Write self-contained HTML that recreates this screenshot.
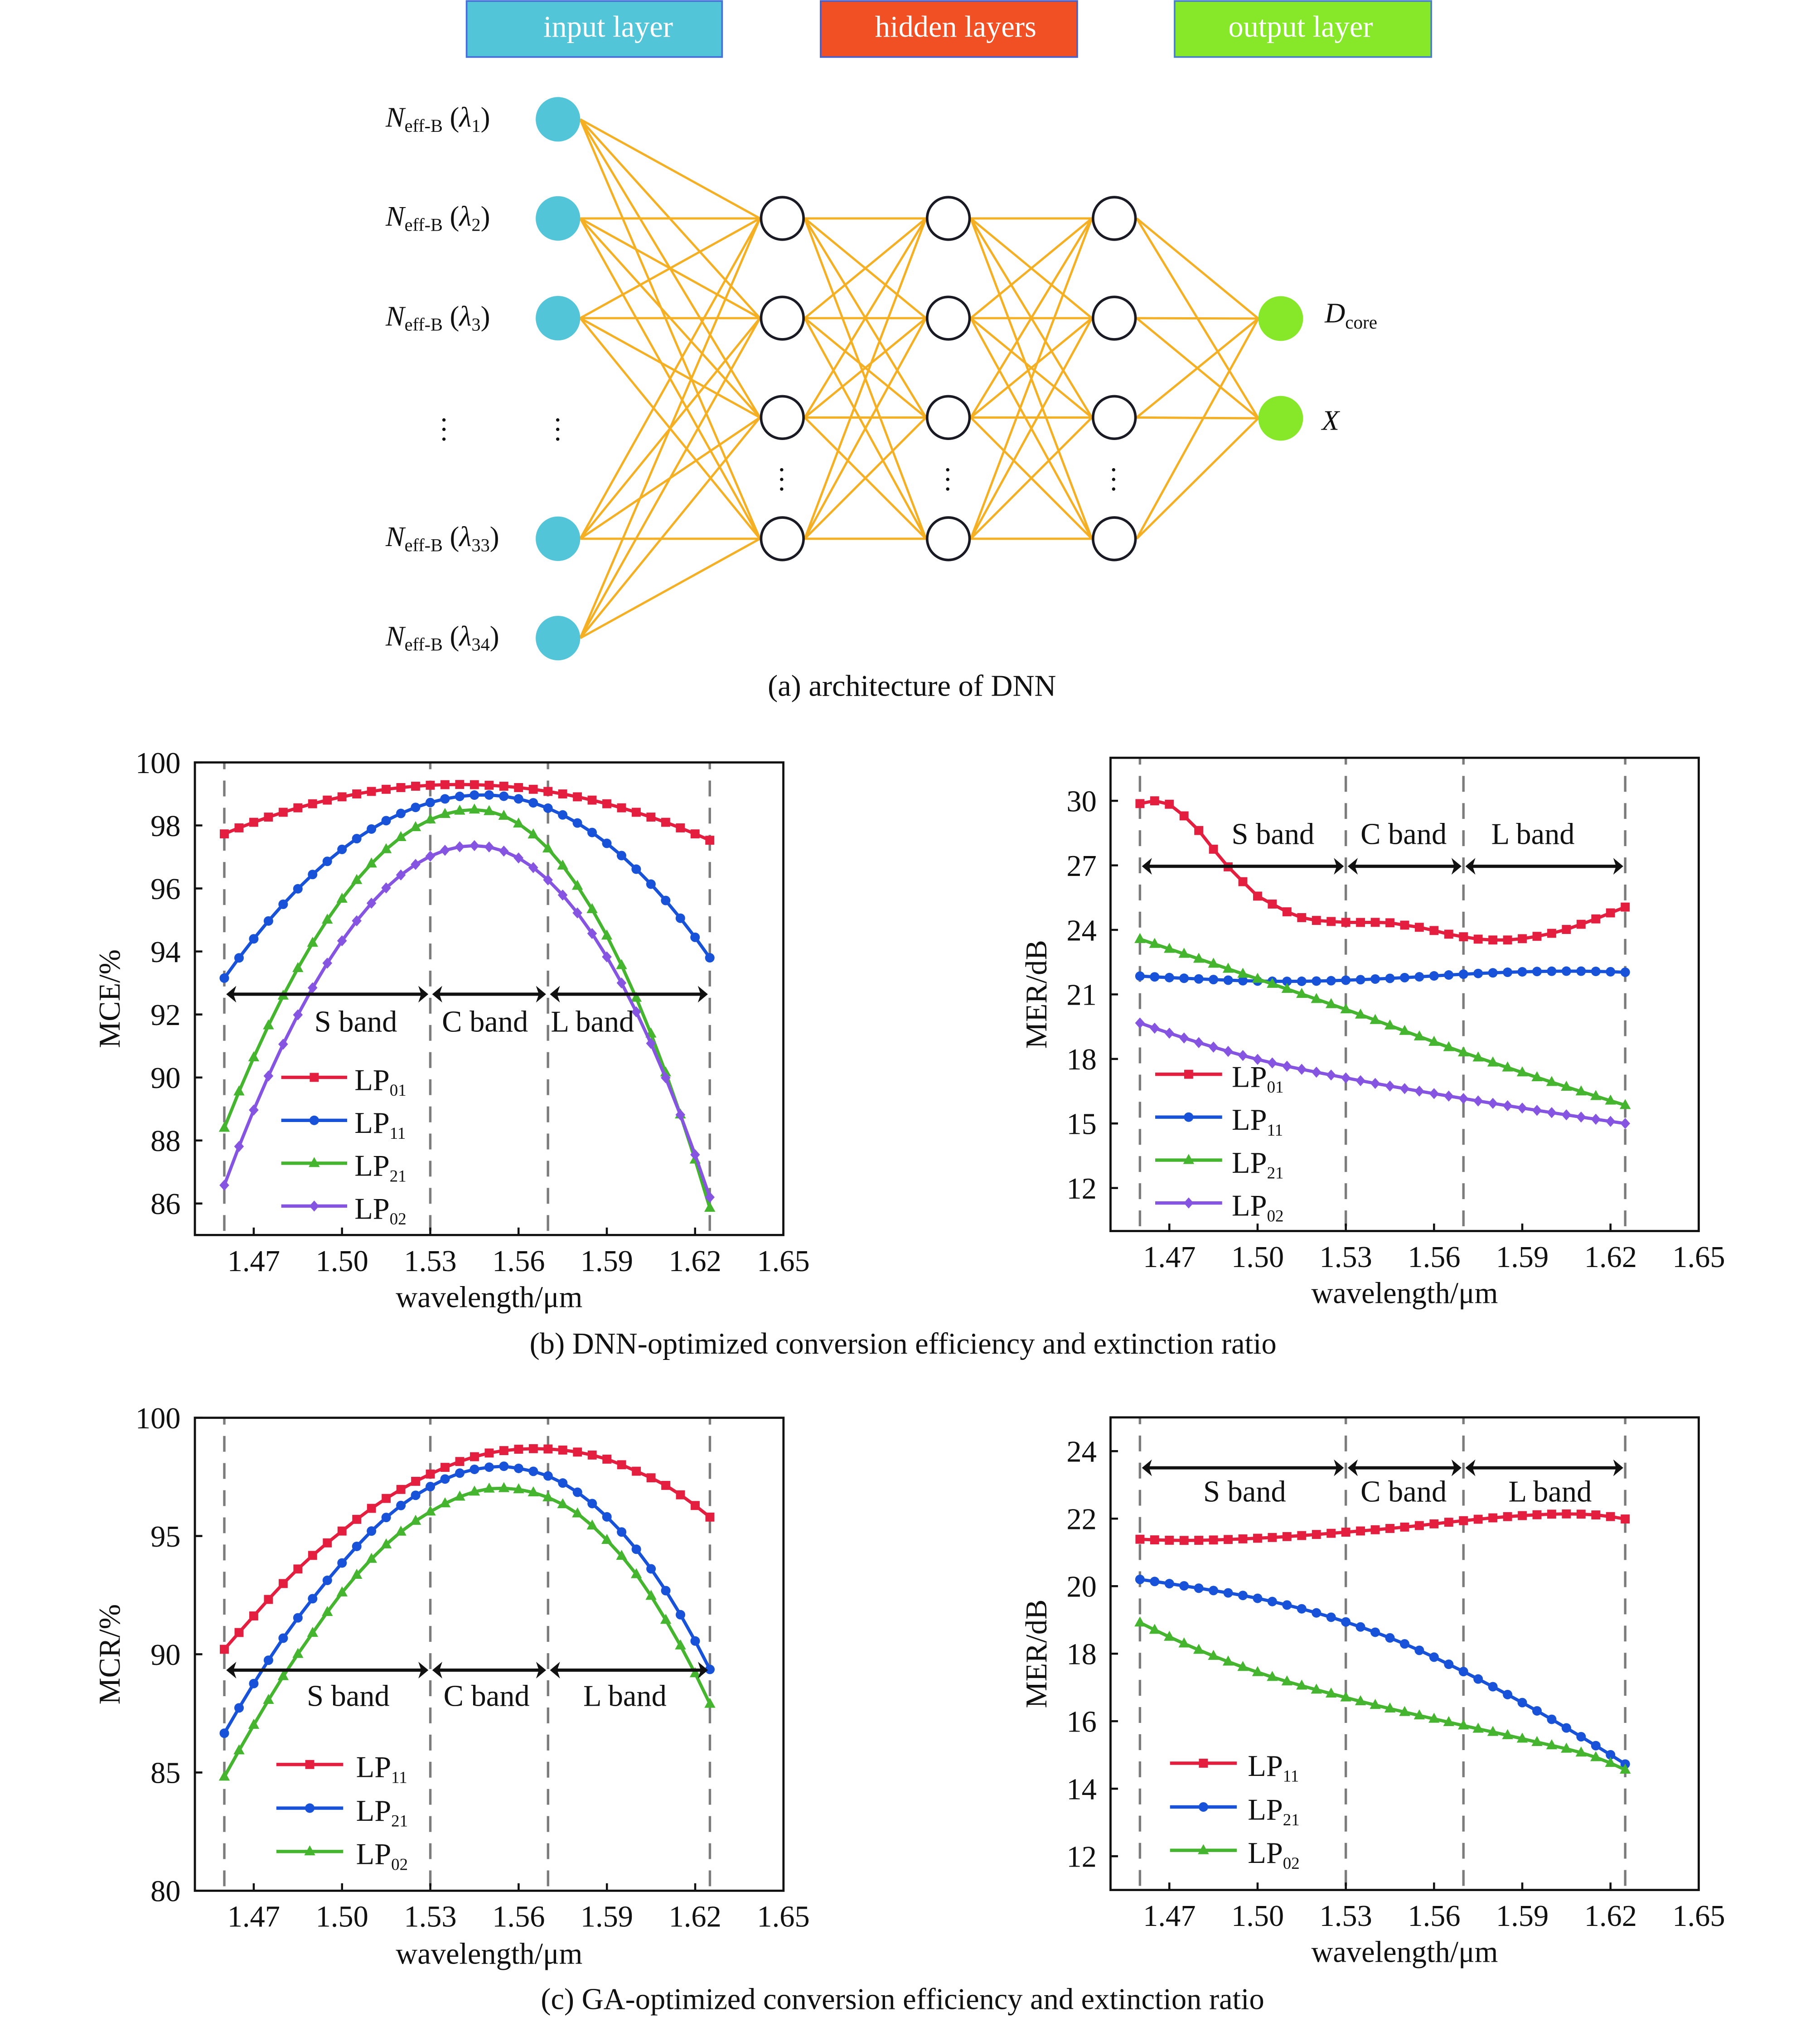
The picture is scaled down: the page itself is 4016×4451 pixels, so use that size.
<!DOCTYPE html>
<html>
<head>
<meta charset="utf-8">
<style>
html,body{margin:0;padding:0;background:#fff;}
body{width:4016px;height:4451px;overflow:hidden;}
svg{display:block;}
text{fill:#111;}
</style>
</head>
<body>
<svg id="fig" width="4016" height="4451" viewBox="0 0 1414 1567.2" font-family="'Liberation Serif', 'DejaVu Serif', serif">
<rect x="0" y="0" width="1414" height="1567.2" fill="#fff"/>

<!-- header boxes -->
<rect x="362.5" y="0.8" width="198.5" height="43.5" fill="#52C5D8" stroke="#4470D8" stroke-width="1.3"/>
<rect x="637.6" y="0.8" width="199.3" height="43.5" fill="#F15024" stroke="#4a5fc8" stroke-width="1.3"/>
<rect x="912.6" y="0.8" width="199.4" height="43.5" fill="#86E828" stroke="#4a80c8" stroke-width="1.3"/>
<text x="472.5" y="28.5" font-size="23.4" text-anchor="middle" style="fill:#fff">input layer</text>
<text x="742.5" y="28.5" font-size="23.4" text-anchor="middle" style="fill:#fff">hidden layers</text>
<text x="1010.5" y="28.5" font-size="23.4" text-anchor="middle" style="fill:#fff">output layer</text>

<!-- network edges (generated) -->
<g id="edges"></g>

<!-- input nodes -->
<g fill="#52C5D8">
<circle cx="433.5" cy="92.7" r="17.3"/>
<circle cx="433.5" cy="169.7" r="17.3"/>
<circle cx="433.5" cy="247.2" r="17.3"/>
<circle cx="433.5" cy="418.6" r="17.3"/>
<circle cx="433.5" cy="495.8" r="17.3"/>
</g>
<!-- hidden nodes -->
<g fill="#fff" stroke="#1a1a24" stroke-width="2">
<circle cx="607.8" cy="169.7" r="16.5"/><circle cx="607.8" cy="247.2" r="16.5"/><circle cx="607.8" cy="324.4" r="16.5"/><circle cx="607.8" cy="418.6" r="16.5"/>
<circle cx="736.8" cy="169.7" r="16.5"/><circle cx="736.8" cy="247.2" r="16.5"/><circle cx="736.8" cy="324.4" r="16.5"/><circle cx="736.8" cy="418.6" r="16.5"/>
<circle cx="865.7" cy="169.7" r="16.5"/><circle cx="865.7" cy="247.2" r="16.5"/><circle cx="865.7" cy="324.4" r="16.5"/><circle cx="865.7" cy="418.6" r="16.5"/>
</g>
<!-- output nodes -->
<g fill="#86E828">
<circle cx="995" cy="247.5" r="17.4"/>
<circle cx="995" cy="325" r="17.4"/>
</g>

<!-- vertical ellipsis dots -->
<g fill="#111">
<circle cx="344.9" cy="326.3" r="1.3"/><circle cx="344.9" cy="333.6" r="1.3"/><circle cx="344.9" cy="341.2" r="1.3"/>
<circle cx="433.3" cy="326.3" r="1.3"/><circle cx="433.3" cy="333.6" r="1.3"/><circle cx="433.3" cy="341.2" r="1.3"/>
<circle cx="607.3" cy="365" r="1.3"/><circle cx="607.3" cy="372.5" r="1.3"/><circle cx="607.3" cy="380" r="1.3"/>
<circle cx="736.3" cy="365" r="1.3"/><circle cx="736.3" cy="372.5" r="1.3"/><circle cx="736.3" cy="380" r="1.3"/>
<circle cx="865.2" cy="365" r="1.3"/><circle cx="865.2" cy="372.5" r="1.3"/><circle cx="865.2" cy="380" r="1.3"/>
</g>

<!-- input labels -->
<g font-size="22">
<text x="299.6" y="98.4"><tspan font-style="italic">N</tspan><tspan font-size="14.2" dy="4">eff-B</tspan><tspan dy="-4" xml:space="preserve"> (</tspan><tspan font-style="italic">λ</tspan><tspan font-size="14.2" dy="4">1</tspan><tspan dy="-4">)</tspan></text>
<text x="299.6" y="175.4"><tspan font-style="italic">N</tspan><tspan font-size="14.2" dy="4">eff-B</tspan><tspan dy="-4" xml:space="preserve"> (</tspan><tspan font-style="italic">λ</tspan><tspan font-size="14.2" dy="4">2</tspan><tspan dy="-4">)</tspan></text>
<text x="299.6" y="252.9"><tspan font-style="italic">N</tspan><tspan font-size="14.2" dy="4">eff-B</tspan><tspan dy="-4" xml:space="preserve"> (</tspan><tspan font-style="italic">λ</tspan><tspan font-size="14.2" dy="4">3</tspan><tspan dy="-4">)</tspan></text>
<text x="299.6" y="424.3"><tspan font-style="italic">N</tspan><tspan font-size="14.2" dy="4">eff-B</tspan><tspan dy="-4" xml:space="preserve"> (</tspan><tspan font-style="italic">λ</tspan><tspan font-size="14.2" dy="4">33</tspan><tspan dy="-4">)</tspan></text>
<text x="299.6" y="501.5"><tspan font-style="italic">N</tspan><tspan font-size="14.2" dy="4">eff-B</tspan><tspan dy="-4" xml:space="preserve"> (</tspan><tspan font-style="italic">λ</tspan><tspan font-size="14.2" dy="4">34</tspan><tspan dy="-4">)</tspan></text>
</g>
<!-- output labels -->
<text x="1029.2" y="250.6" font-size="22"><tspan font-style="italic">D</tspan><tspan font-size="14.5" dy="4.7">core</tspan></text>
<text x="1027" y="333.9" font-size="22" font-style="italic">X</text>

<text x="708.5" y="540.7" font-size="23.4" text-anchor="middle">(a) architecture of DNN</text>

<!-- plots (generated geometry) -->
<g id="plots"></g>

<!-- plot texts -->
<g font-size="23.4">
<!-- b-left -->
<g text-anchor="end">
<text x="140.3" y="600.6">100</text><text x="140.3" y="649.6">98</text><text x="140.3" y="698.5">96</text><text x="140.3" y="747.5">94</text><text x="140.3" y="796.4">92</text><text x="140.3" y="845.4">90</text><text x="140.3" y="894.4">88</text><text x="140.3" y="943.3">86</text>
</g>
<g text-anchor="middle">
<text x="197.1" y="987.6">1.47</text><text x="265.7" y="987.6">1.50</text><text x="334.3" y="987.6">1.53</text><text x="402.9" y="987.6">1.56</text><text x="471.4" y="987.6">1.59</text><text x="540.0" y="987.6">1.62</text><text x="608.6" y="987.6">1.65</text>
<text x="380" y="1015.6">wavelength/μm</text>
<text transform="translate(93,776) rotate(-90)">MCE/%</text>
<text x="276.4" y="801.5">S band</text><text x="376.8" y="801.5">C band</text><text x="460.3" y="801.5">L band</text>
</g>
<text x="275.4" y="846.9">LP<tspan font-size="13" dy="4.5">01</tspan></text>
<text x="275.4" y="880.3">LP<tspan font-size="13" dy="4.5">11</tspan></text>
<text x="275.4" y="913.6">LP<tspan font-size="13" dy="4.5">21</tspan></text>
<text x="275.4" y="946.9">LP<tspan font-size="13" dy="4.5">02</tspan></text>

<!-- b-right -->
<g text-anchor="end">
<text x="852" y="630.4">30</text><text x="852" y="680.6">27</text><text x="852" y="730.7">24</text><text x="852" y="780.8">21</text><text x="852" y="831.0">18</text><text x="852" y="881.1">15</text><text x="852" y="931.3">12</text>
</g>
<g text-anchor="middle">
<text x="908.5" y="984.5">1.47</text><text x="977.1" y="984.5">1.50</text><text x="1045.6" y="984.5">1.53</text><text x="1114.2" y="984.5">1.56</text><text x="1182.7" y="984.5">1.59</text><text x="1251.3" y="984.5">1.62</text><text x="1319.8" y="984.5">1.65</text>
<text x="1091.3" y="1012.5">wavelength/μm</text>
<text transform="translate(813,772.6) rotate(-90)">MER/dB</text>
<text x="989" y="655.8">S band</text><text x="1090.5" y="655.8">C band</text><text x="1191" y="655.8">L band</text>
</g>
<text x="957" y="844.5">LP<tspan font-size="13" dy="4.5">01</tspan></text>
<text x="957" y="877.8">LP<tspan font-size="13" dy="4.5">11</tspan></text>
<text x="957" y="911.2">LP<tspan font-size="13" dy="4.5">21</tspan></text>
<text x="957" y="944.5">LP<tspan font-size="13" dy="4.5">02</tspan></text>

<text x="701.6" y="1051.8" text-anchor="middle">(b) DNN-optimized conversion efficiency and extinction ratio</text>

<!-- c-left -->
<g text-anchor="end">
<text x="140.3" y="1109.8">100</text><text x="140.3" y="1201.7">95</text><text x="140.3" y="1293.6">90</text><text x="140.3" y="1385.4">85</text><text x="140.3" y="1477.3">80</text>
</g>
<g text-anchor="middle">
<text x="197.1" y="1497">1.47</text><text x="265.7" y="1497">1.50</text><text x="334.3" y="1497">1.53</text><text x="402.9" y="1497">1.56</text><text x="471.4" y="1497">1.59</text><text x="540.0" y="1497">1.62</text><text x="608.6" y="1497">1.65</text>
<text x="380" y="1525.8">wavelength/μm</text>
<text transform="translate(93,1285.4) rotate(-90)">MCR/%</text>
<text x="270.5" y="1325.4">S band</text><text x="378" y="1325.4">C band</text><text x="485.5" y="1325.4">L band</text>
</g>
<text x="276.6" y="1380.8">LP<tspan font-size="13" dy="4.5">11</tspan></text>
<text x="276.6" y="1414.7">LP<tspan font-size="13" dy="4.5">21</tspan></text>
<text x="276.6" y="1448.4">LP<tspan font-size="13" dy="4.5">02</tspan></text>

<!-- c-right -->
<g text-anchor="end">
<text x="852" y="1135.7">24</text><text x="852" y="1188.2">22</text><text x="852" y="1240.6">20</text><text x="852" y="1293.1">18</text><text x="852" y="1345.6">16</text><text x="852" y="1398">14</text><text x="852" y="1450.5">12</text>
</g>
<g text-anchor="middle">
<text x="908.5" y="1496.5">1.47</text><text x="977.1" y="1496.5">1.50</text><text x="1045.6" y="1496.5">1.53</text><text x="1114.2" y="1496.5">1.56</text><text x="1182.7" y="1496.5">1.59</text><text x="1251.3" y="1496.5">1.62</text><text x="1319.8" y="1496.5">1.65</text>
<text x="1091.3" y="1524.5">wavelength/μm</text>
<text transform="translate(813,1285) rotate(-90)">MER/dB</text>
<text x="967" y="1166.6">S band</text><text x="1090.5" y="1166.6">C band</text><text x="1204.3" y="1166.6">L band</text>
</g>
<text x="969.4" y="1379.8">LP<tspan font-size="13" dy="4.5">11</tspan></text>
<text x="969.4" y="1413.8">LP<tspan font-size="13" dy="4.5">21</tspan></text>
<text x="969.4" y="1447.5">LP<tspan font-size="13" dy="4.5">02</tspan></text>

<text x="701.2" y="1561" text-anchor="middle">(c) GA-optimized conversion efficiency and extinction ratio</text>
</g>
</svg>

<script>
(function(){
  // ---------- network edges ----------
  var inY=[92.7,169.7,247.2,418.6,495.8], hY=[169.7,247.2,324.4,418.6], oY=[247.5,325];
  var inX=433.5, inR=17.3, hX=[607.8,736.8,865.7], hR=17.4, oX=995, oR=17.4;
  var e='', col='#F4AF22', sw=1.75;
  function ln(x1,y1,x2,y2){ e+='<line x1="'+x1+'" y1="'+y1+'" x2="'+x2+'" y2="'+y2+'" stroke="'+col+'" stroke-width="'+sw+'"/>'; }
  inY.forEach(function(a){ hY.forEach(function(b){ ln(inX+inR,a,hX[0]-hR,b); }); });
  for(var k=0;k<2;k++){ hY.forEach(function(a){ hY.forEach(function(b){ ln(hX[k]+hR,a,hX[k+1]-hR,b); }); }); }
  hY.forEach(function(a){ oY.forEach(function(b){ ln(hX[2]+hR,a,oX-oR,b); }); });
  document.getElementById('edges').innerHTML=e;

  // ---------- plots ----------
  var RED='#E41E3F', BLUE='#1752D8', GREEN='#45B530', PURP='#8555E2';
  function spline(pts){
    var n=pts.length, xs=pts.map(function(p){return p[0];}), ys=pts.map(function(p){return p[1];});
    var d=[],m=[],i;
    for(i=0;i<n-1;i++) d.push((ys[i+1]-ys[i])/(xs[i+1]-xs[i]));
    for(i=1;i<n-1;i++){ var h0=xs[i]-xs[i-1], h1=xs[i+1]-xs[i]; m[i]=(d[i-1]*h1+d[i]*h0)/(h0+h1); }
    if(n>2){ m[0]=2*d[0]-m[1]; m[n-1]=2*d[n-2]-m[n-2]; } else { m[0]=d[0]; m[1]=d[0]; }
    return function(x){
      var k=0; while(k<n-2 && x>xs[k+1]) k++;
      var h=xs[k+1]-xs[k], t=(x-xs[k])/h, t2=t*t, t3=t2*t;
      return (2*t3-3*t2+1)*ys[k]+(t3-2*t2+t)*h*m[k]+(-2*t3+3*t2)*ys[k+1]+(t3-t2)*h*m[k+1];
    };
  }
  function pp(peak,w0,aL,aR){ return function(w){ var dd=w-w0; return peak-(w<w0?aL:aR)*dd*dd; }; }

  var wl=[]; for(var i=0;i<34;i++) wl.push(1.46+0.005*i);

  var plots=[
    {x0:151.4,x1:608.6,y0:592.4,y1:959.6,ymin:85,ymax:100,yt:[86,88,90,92,94,96,98,100],ay:772.5,
     lg:{x0:218.5,x1:269.7,ys:[837.1,870.5,903.8,937.1]},
     s:[{c:RED,m:'sq',f:pp(99.3,1.54,245,245)},
        {c:BLUE,m:'ci',f:pp(98.97,1.548,751,872)},
        {c:GREEN,m:'tr',f:pp(98.5,1.545,1398,1975)},
        {c:PURP,m:'di',f:pp(97.36,1.545,1492,1744)}]},
    {x0:862.8,x1:1319.8,y0:588.8,y1:956.5,ymin:10,ymax:32,yt:[12,15,18,21,24,27,30],ay:673.1,
     lg:{x0:897.5,x1:949.5,ys:[834.7,868,901.4,934.7]},
     s:[{c:RED,m:'sq',f:spline([[1.46,29.87],[1.465,30.0],[1.47,29.84],[1.475,29.3],[1.48,28.62],[1.485,27.75],[1.49,26.93],[1.495,26.24],[1.50,25.57],[1.505,25.2],[1.51,24.84],[1.515,24.57],[1.52,24.44],[1.525,24.39],[1.53,24.35],[1.54,24.35],[1.545,24.33],[1.55,24.22],[1.555,24.12],[1.56,23.97],[1.565,23.8],[1.57,23.68],[1.575,23.57],[1.58,23.53],[1.585,23.53],[1.59,23.59],[1.595,23.7],[1.60,23.84],[1.605,24.02],[1.61,24.26],[1.615,24.51],[1.62,24.79],[1.625,25.06]])},
        {c:BLUE,m:'ci',f:spline([[1.46,21.85],[1.48,21.72],[1.50,21.62],[1.52,21.62],[1.53,21.66],[1.55,21.78],[1.57,21.94],[1.59,22.05],[1.61,22.08],[1.625,22.03]])},
        {c:GREEN,m:'tr',f:spline([[1.46,23.57],[1.50,21.72],[1.53,20.3],[1.57,18.3],[1.625,15.85]])},
        {c:PURP,m:'di',f:spline([[1.46,19.67],[1.48,18.76],[1.50,17.98],[1.53,17.12],[1.57,16.16],[1.625,15.0]])}]},
    {x0:151.4,x1:608.7,y0:1101.6,y1:1469.1,ymin:80,ymax:100,yt:[85,90,95,100],ay:1297.7,
     lg:{x0:214.7,x1:266.6,ys:[1371,1404.9,1438.6]},
     s:[{c:RED,m:'sq',f:spline([[1.46,90.21],[1.47,91.62],[1.48,92.99],[1.49,94.18],[1.50,95.21],[1.51,96.17],[1.52,96.97],[1.53,97.62],[1.54,98.15],[1.55,98.51],[1.56,98.67],[1.57,98.68],[1.58,98.55],[1.59,98.25],[1.60,97.74],[1.61,97.14],[1.62,96.29],[1.625,95.8]])},
        {c:BLUE,m:'ci',f:spline([[1.46,86.66],[1.47,88.76],[1.48,90.68],[1.49,92.35],[1.50,93.86],[1.51,95.21],[1.52,96.29],[1.53,97.09],[1.54,97.66],[1.55,97.91],[1.555,97.95],[1.56,97.86],[1.57,97.54],[1.58,96.85],[1.59,95.81],[1.60,94.44],[1.61,92.69],[1.62,90.56],[1.625,89.36]])},
        {c:GREEN,m:'tr',f:spline([[1.46,84.82],[1.47,87.01],[1.48,89.07],[1.49,90.9],[1.50,92.61],[1.51,94.03],[1.52,95.18],[1.53,96.03],[1.54,96.66],[1.55,97.0],[1.555,97.02],[1.56,96.97],[1.57,96.63],[1.58,95.95],[1.59,94.83],[1.60,93.38],[1.61,91.45],[1.62,89.19],[1.625,87.9]])}]},
    {x0:862.8,x1:1319.8,y0:1101.3,y1:1468.5,ymin:11,ymax:25,yt:[12,14,16,18,20,22,24],ay:1140.5,
     lg:{x0:909,x1:960.9,ys:[1370,1404,1437.7]},
     s:[{c:RED,m:'sq',f:spline([[1.46,21.39],[1.47,21.36],[1.50,21.42],[1.53,21.6],[1.55,21.75],[1.57,21.94],[1.59,22.09],[1.605,22.14],[1.615,22.11],[1.625,21.99]])},
        {c:BLUE,m:'ci',f:spline([[1.46,20.2],[1.48,19.94],[1.50,19.64],[1.53,18.94],[1.55,18.29],[1.57,17.47],[1.59,16.55],[1.61,15.54],[1.625,14.73]])},
        {c:GREEN,m:'tr',f:spline([[1.46,18.92],[1.48,18.11],[1.50,17.45],[1.53,16.7],[1.57,15.87],[1.59,15.48],[1.62,14.76],[1.625,14.56]])}]}
  ];

  function mk(t,x,y,c){
    x=+x.toFixed(2); y=+y.toFixed(2);
    if(t==='sq') return '<rect x="'+(x-3.5)+'" y="'+(y-3.5)+'" width="7" height="7" fill="'+c+'"/>';
    if(t==='ci') return '<circle cx="'+x+'" cy="'+y+'" r="3.7" fill="'+c+'"/>';
    if(t==='tr') return '<polygon points="'+x+','+(y-4.8)+' '+(x-4.3)+','+(y+3)+' '+(x+4.3)+','+(y+3)+'" fill="'+c+'"/>';
    return '<polygon points="'+x+','+(y-4.3)+' '+(x+3.8)+','+y+' '+x+','+(y+4.3)+' '+(x-3.8)+','+y+'" fill="'+c+'"/>';
  }
  function arrow(xa,xb,y){
    var s='<line x1="'+(xa+5)+'" y1="'+y+'" x2="'+(xb-5)+'" y2="'+y+'" stroke="#111" stroke-width="2.5"/>';
    s+='<polygon points="'+xa+','+y+' '+(xa+7.8)+','+(y-6.5)+' '+(xa+5.6)+','+y+' '+(xa+7.8)+','+(y+6.5)+'" fill="#111"/>';
    s+='<polygon points="'+xb+','+y+' '+(xb-7.8)+','+(y-6.5)+' '+(xb-5.6)+','+y+' '+(xb-7.8)+','+(y+6.5)+'" fill="#111"/>';
    return s;
  }

  var out='';
  plots.forEach(function(p){
    function X(w){ return p.x0+(w-1.45)/0.2*(p.x1-p.x0); }
    function Y(v){ return p.y1-(v-p.ymin)/(p.ymax-p.ymin)*(p.y1-p.y0); }
    // dashed verticals
    [1.46,1.53,1.57,1.625].forEach(function(w){
      var x=X(w).toFixed(2);
      out+='<line x1="'+x+'" y1="'+p.y0+'" x2="'+x+'" y2="'+p.y1+'" stroke="#7c7c7c" stroke-width="1.9" stroke-dasharray="12.3 8.8" stroke-dashoffset="7"/>';
    });
    // frame
    out+='<rect x="'+p.x0+'" y="'+p.y0+'" width="'+(p.x1-p.x0).toFixed(2)+'" height="'+(p.y1-p.y0).toFixed(2)+'" fill="none" stroke="#111" stroke-width="1.7"/>';
    // ticks
    [1.47,1.50,1.53,1.56,1.59,1.62].forEach(function(w){
      var x=X(w).toFixed(2);
      out+='<line x1="'+x+'" y1="'+p.y1+'" x2="'+x+'" y2="'+(p.y1-5.8)+'" stroke="#111" stroke-width="1.6"/>';
    });
    p.yt.forEach(function(v){
      var y=Y(v).toFixed(2);
      out+='<line x1="'+p.x0+'" y1="'+y+'" x2="'+(p.x0+5.8)+'" y2="'+y+'" stroke="#111" stroke-width="1.6"/>';
    });
    // series
    p.s.forEach(function(s){
      var pts=wl.map(function(w){ return [X(w),Y(s.f(w))]; });
      out+='<polyline points="'+pts.map(function(q){return q[0].toFixed(2)+','+q[1].toFixed(2);}).join(' ')+'" fill="none" stroke="'+s.c+'" stroke-width="2.5" stroke-linejoin="round"/>';
      pts.forEach(function(q){ out+=mk(s.m,q[0],q[1],s.c); });
    });
    // arrows
    var xa=X(1.46), xb=X(1.53), xc=X(1.57), xd=X(1.625);
    out+=arrow(xa+1.5,xb-1.5,p.ay)+arrow(xb+1.5,xc-1.5,p.ay)+arrow(xc+1.5,xd-1.5,p.ay);
    // legend
    p.s.forEach(function(s,i){
      var y=p.lg.ys[i];
      out+='<line x1="'+p.lg.x0+'" y1="'+y+'" x2="'+p.lg.x1+'" y2="'+y+'" stroke="'+s.c+'" stroke-width="2.6"/>';
      out+=mk(s.m,(p.lg.x0+p.lg.x1)/2,y,s.c);
    });
  });
  document.getElementById('plots').innerHTML=out;
})();
</script>
</body>
</html>
